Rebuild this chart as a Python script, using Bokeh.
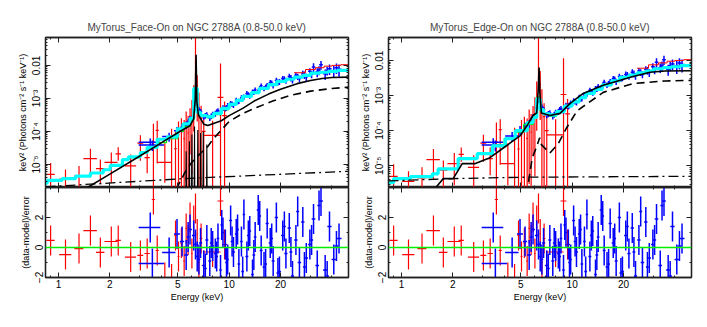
import numpy as np
from bokeh.plotting import figure
from bokeh.layouts import row, column
from bokeh.models import Range1d, LogAxis, LinearAxis, FixedTicker, CustomJSTickFormatter, Span
from bokeh.embed import file_html
from bokeh.resources import INLINE

# ---------------- axes / ticks ----------------
energy_range = [0.84, 50.0]
flux_range_faceon = [2.0e-6, 0.07]
flux_range_edgeon = [2.4e-6, 0.045]
resid_range = [-2.0, 4.0]
x_major_ticks = [1, 2, 5, 10, 20]
x_minor_ticks = [0.9, 3, 4, 6, 7, 8, 9, 30, 40, 50]
y_major_ticks = [1e-5, 1e-4, 1e-3, 1e-2]
y_minor_ticks = [2e-6, 3e-6, 4e-6, 5e-6, 6e-6, 7e-6, 8e-6, 9e-6,
                 2e-5, 3e-5, 4e-5, 5e-5, 6e-5, 7e-5, 8e-5, 9e-5,
                 2e-4, 3e-4, 4e-4, 5e-4, 6e-4, 7e-4, 8e-4, 9e-4,
                 2e-3, 3e-3, 4e-3, 5e-3, 6e-3, 7e-3, 8e-3, 9e-3,
                 2e-2, 3e-2, 4e-2, 5e-2, 6e-2]
res_ticks_faceon = [-2, 0, 2]
res_ticks_edgeon = [-2, 0, 2]
res_minor_ticks = [-1, 1, 3]

# ---------------- red spectrum ----------------
red_E = [0.90, 1.10, 1.32, 1.54, 1.76, 2.04, 2.24, 2.65, 3.02, 3.31, 3.60, 3.79, 4.20, 4.60, 4.85, 5.05,
         5.25, 5.45, 5.60, 5.75, 5.90, 6.05, 6.20, 6.35, 6.50, 6.65, 6.85, 7.10, 8.00, 8.90, 9.40]
red_dE = [0.05, 0.09, 0.08, 0.14, 0.10, 0.18, 0.08, 0.20, 0.12, 0.12, 0.08, 0.08, 0.40, 0.10, 0.08, 0.06,
          0.08, 0.07, 0.05, 0.05, 0.05, 0.05, 0.05, 0.05, 0.05, 0.06, 0.12, 0.18, 0.90, 0.35, 0.30]
red_F = [5.0e-6, 3.6e-6, 4.5e-6, 1.5e-5, 7.5e-6, 1.15e-5, 2.1e-5, 9.0e-6, 4.4e-5, 1.6e-5, 4.7e-5, 1.07e-4,
         1.15e-5, 6.0e-5, 3.0e-5, 8.0e-5, 1.2e-4, 6.0e-5, 1.5e-4, 9.0e-5, 2.2e-4, 3.0e-4, 8.0e-4, 1.2e-2,
         2.0e-3, 4.0e-4, 2.5e-4, 1.0e-4, 7.6e-5, 1.07e-3, 3.0e-4]
red_lo = [1e-7, 1e-7, 1.5e-6, 4.1e-6, 2.5e-6, 2.8e-6, 1.3e-5, 2.0e-6, 1.3e-5, 5.4e-6, 1e-7, 1.07e-5,
          2.8e-6, 1e-7, 1e-7, 1e-6, 1e-7, 1e-7, 3e-6, 1e-7, 2e-5, 5e-6, 1e-4, 1.5e-3,
          2e-4, 1e-7, 1e-7, 1e-7, 1e-7, 1e-7, 1e-7]
red_hi = [1.1e-5, 7.0e-6, 9.0e-6, 3.0e-5, 1.4e-5, 2.3e-5, 3.3e-5, 2.0e-5, 7.6e-5, 3.3e-5, 1.7e-4, 2.1e-4,
          4.4e-5, 1.2e-4, 1.0e-4, 2.0e-4, 2.5e-4, 2.2e-4, 4.0e-4, 3.0e-4, 5.0e-4, 9.0e-4, 2.5e-3, 0.1,
          5.0e-3, 1.5e-3, 6.0e-4, 3.0e-4, 2.1e-4, 1.15e-2, 8.0e-4]
red_res = [0.47, -0.47, -0.07, 1.13, -0.33, 0.4, 0.47, -0.64, -0.53, -0.4, 3.2, -0.2, -2.0, -2.1, 0.8, -0.6,
           0.3, -0.9, 1.27, 0.5, 2.0, -0.4, 1.8, 2.6, 0.9, -1.0, 0.6, -1.2, -0.3, 3.1, 0.2]

# ---------------- blue spectrum (two sets) ----------------
blue_E = [3.45, 3.55, 4.45, 4.95, 5.3, 5.6, 5.9, 6.2, 6.5, 6.8, 7.1, 7.4, 7.7, 8.0, 8.3, 8.6, 8.9, 9.2, 9.5, 9.8,
          10.2, 10.6, 11.0, 11.4, 11.8, 12.2, 12.7, 13.2, 13.7, 14.2, 14.8, 15.4, 16.0, 16.7, 17.4, 18.1,
          18.9, 19.7, 20.6, 21.5, 22.5, 23.5, 24.6, 25.8, 27.0, 28.3, 29.7, 31.2, 32.8, 34.5, 36.5, 38.7,
          41.0, 44.0]
blue_dE = [0.5, 0.6, 0.4, 0.2, 0.15, 0.15, 0.15, 0.15, 0.15, 0.15, 0.15, 0.15, 0.15, 0.15, 0.15, 0.15, 0.15,
           0.15, 0.15, 0.15, 0.2, 0.2, 0.2, 0.2, 0.2, 0.2, 0.25, 0.25, 0.25, 0.25, 0.3, 0.3, 0.3, 0.35, 0.35,
           0.35, 0.4, 0.4, 0.45, 0.45, 0.5, 0.5, 0.55, 0.6, 0.6, 0.65, 0.7, 0.75, 0.8, 0.85, 1.0, 1.1, 1.2, 1.5]
blue_F = [4.7e-5, 3.9e-5, 7.0e-5, 1.05e-4, 1.32e-4, 1.6e-4, 2.4e-4, 4.5e-4, 6.3e-4, 4.0e-4, 2.8e-4, 3.2e-4,
          2.6e-4, 3.3e-4, 3.5e-4, 4.2e-4, 3.8e-4, 5.2e-4, 5.0e-4, 6.0e-4, 7.1e-4, 6.3e-4, 8.9e-4, 8.3e-4,
          1.05e-3, 1.12e-3, 1.41e-3, 1.2e-3, 1.58e-3, 1.82e-3, 1.66e-3, 2.4e-3, 2.0e-3, 2.5e-3, 3.0e-3,
          2.5e-3, 3.5e-3, 3.2e-3, 4.0e-3, 3.5e-3, 4.6e-3, 3.6e-3, 5.0e-3, 4.0e-3, 5.5e-3, 4.5e-3, 6.6e-3,
          8.9e-3, 6.3e-3, 1.05e-2, 5.6e-3, 7.9e-3, 6.9e-3, 7.6e-3]
blue_err = [0.3, 0.35, 0.3, 0.3, 0.28, 0.25, 0.22, 0.2, 0.2, 0.2, 0.2, 0.2, 0.2, 0.2, 0.2, 0.2, 0.2, 0.2, 0.2,
            0.2, 0.18, 0.18, 0.18, 0.18, 0.18, 0.18, 0.18, 0.18, 0.18, 0.18, 0.18, 0.18, 0.18, 0.18, 0.2,
            0.2, 0.2, 0.2, 0.2, 0.2, 0.22, 0.22, 0.22, 0.22, 0.25, 0.25, 0.25, 0.3, 0.3, 0.3, 0.35, 0.35,
            0.4, 0.4]
blue_res = [1.33, -1.07, -0.33, 0.9, 0.4, -0.5, 1.2, 0.8, -0.6, 0.3, -1.2, 0.5, -0.9, 0.1, -0.4, 0.6, -1.5,
            1.0, 0.2, -0.8, 1.8, -0.3, 0.9, -1.1, 0.4, 2.2, -0.6, 1.1, -1.8, 0.7, 2.5, -0.2, -1.3, 1.6, 0.3,
            -0.9, 2.0, -1.6, 0.8, -0.4, 1.3, -1.9, 0.5, -1.0, 1.7, -0.7, 0.2, 1.9, -1.2, 3.1, -1.5, 1.4,
            -0.8, 0.6]

blueB_E = [5.75, 6.35, 6.65, 7.25, 7.85, 8.45, 9.05, 9.65, 10.4, 11.2, 12.0, 12.95, 13.95, 15.1, 16.35,
           17.75, 19.3, 21.05, 23.0, 25.2, 27.6, 30.4, 33.6, 37.5, 42.5]
blueB_dE = [0.12, 0.12, 0.12, 0.14, 0.14, 0.15, 0.16, 0.17, 0.2, 0.2, 0.22, 0.24, 0.26, 0.28, 0.3, 0.33,
            0.37, 0.4, 0.45, 0.5, 0.55, 0.65, 0.75, 0.9, 1.1]
blueB_F = [1.9e-4, 7.5e-4, 4.6e-4, 3.0e-4, 2.9e-4, 3.9e-4, 4.4e-4, 5.3e-4, 6.8e-4, 8.0e-4, 1.0e-3, 1.3e-3,
           1.55e-3, 2.0e-3, 2.2e-3, 2.9e-3, 3.1e-3, 3.9e-3, 4.2e-3, 4.6e-3, 5.2e-3, 5.4e-3, 7.2e-3, 7.0e-3,
           8.5e-3]
blueB_err = [0.22, 0.2, 0.2, 0.2, 0.2, 0.2, 0.2, 0.2, 0.18, 0.18, 0.18, 0.18, 0.18, 0.18, 0.18, 0.2, 0.2,
             0.2, 0.22, 0.22, 0.25, 0.25, 0.3, 0.3, 0.35]
blueB_res = [0.7, 0.2, -0.8, -1.4, 0.3, -0.6, 1.5, -1.0, 0.4, 1.2, -1.6, 0.8, -0.5, 2.1, -1.1, 0.6, -1.7,
             1.4, -0.3, 2.4, -1.3, 0.5, 2.8, -1.9, 0.1]

# ---------------- Face-On models ----------------
faceon_cyan_edges = [0.84, 0.86, 1.05, 1.26, 1.54, 1.83, 2.01, 2.37, 2.57, 3.02, 3.31, 3.79, 4.34, 4.97, 5.38,
                     5.9, 6.2, 6.5, 6.8, 7.4, 8.1, 9.0, 10.0, 11.0, 12.0, 13.5, 15.0, 17.0, 19.0, 21.5, 24.0,
                     27.0, 30.0, 34.0, 38.0, 43.0, 50.0]
faceon_cyan_F = [2.7e-6, 3.3e-6, 3.7e-6, 4.4e-6, 5.5e-6, 6.9e-6, 9.3e-6, 1.4e-5, 1.7e-5, 2.3e-5, 3.3e-5,
                 5.8e-5, 6.8e-5, 1.2e-4, 1.7e-4, 2.5e-4, 2.0e-3, 3.8e-4, 3.0e-4, 2.8e-4, 3.5e-4, 5.0e-4,
                 6.6e-4, 8.7e-4, 1.15e-3, 1.5e-3, 2.0e-3, 2.6e-3, 3.3e-3, 3.8e-3, 4.4e-3, 5.0e-3, 5.8e-3,
                 6.2e-3, 6.6e-3, 7.1e-3]
faceon_green_edges = [2.6, 3.0, 3.3, 3.8, 4.3, 5.0, 5.4, 5.9, 6.2, 6.5, 6.8, 7.4, 8.1, 9.0, 10.0]
faceon_green_F = [1.6e-5, 2.2e-5, 3.1e-5, 4.6e-5, 6.0e-5, 1.0e-4, 1.4e-4, 2.2e-4, 1.6e-3, 3.6e-4, 2.9e-4,
                  2.6e-4, 3.2e-4, 4.6e-4]
faceon_total_E = [1.45, 1.48, 2.0, 3.0, 4.0, 5.0, 5.9, 6.2, 6.33, 6.4, 6.47, 6.6, 7.1, 7.5, 9.0, 10.0, 12.0,
                  14.0, 17.0, 20.0, 25.0, 30.0, 35.0, 40.0, 50.0]
faceon_total_F = [1.6e-6, 2.0e-6, 5.1e-6, 1.8e-5, 4.5e-5, 9.1e-5, 1.5e-4, 2.4e-4, 1.0e-3, 2.1e-2, 7.9e-4,
                  3.2e-4, 1.66e-4, 1.5e-4, 2.1e-4, 3.0e-4, 5.0e-4, 8.3e-4, 1.35e-3, 1.9e-3, 2.8e-3, 3.5e-3,
                  4.0e-3, 4.3e-3, 4.4e-3]
faceon_refl_E = [4.9, 5.5, 6.0, 6.4, 7.0, 7.5, 8.0, 9.0, 10.0, 12.0, 14.6, 18.0, 22.7, 30.0, 40.0, 50.0]
faceon_refl_F = [1.8e-6, 5.6e-6, 1.1e-5, 1.6e-5, 2.5e-5, 3.5e-5, 5.6e-5, 1.1e-4, 2.0e-4, 3.5e-4, 5.4e-4,
                 8.3e-4, 1.23e-3, 1.66e-3, 2.0e-3, 2.2e-3]
faceon_scat_E = [0.84, 5.9, 50.0]
faceon_scat_F = [2.1e-6, 3.8e-6, 6.2e-6]
faceon_lines_E = [5.55, 5.6, 5.65, 5.8, 5.85, 5.9, 6.0, 6.05, 6.1, 6.22, 6.27, 6.3, 6.5, 6.55, 6.6, 6.75,
                  6.8, 6.85, 7.0, 7.05, 7.1, 7.35, 7.4, 7.45]
faceon_lines_F = [1e-7, 2.5e-5, 1e-7, 1e-7, 5e-5, 1e-7, 1e-7, 8e-5, 1e-7, 1e-7, 1.4e-4, 1e-7, 1e-7, 1.1e-4,
                  1e-7, 1e-7, 9e-5, 1e-7, 1e-7, 1.0e-4, 1e-7, 1e-7, 4e-5, 1e-7]
redmodel_edges = [24.0, 28.0, 32.0, 36.0, 40.0, 45.0, 50.0]
redmodel_F = [6.0e-3, 7.5e-3, 8.5e-3, 9.5e-3, 1.0e-2, 1.05e-2]

# ---------------- Edge-On models ----------------
edgeon_cyan_edges = [0.84, 0.90, 1.13, 1.52, 1.64, 2.15, 2.78, 3.41, 4.06, 4.64, 5.46, 5.9, 6.2, 6.5, 6.8,
                     7.4, 8.1, 9.0, 10.0, 11.0, 12.0, 13.5, 15.0, 17.0, 19.0, 21.5, 24.0, 27.0, 30.0, 34.0,
                     38.0, 43.0, 50.0]
edgeon_cyan_F = [3.3e-6, 4.3e-6, 4.9e-6, 5.9e-6, 8.1e-6, 1.6e-5, 2.2e-5, 3.7e-5, 5.9e-5, 1.0e-4, 1.7e-4,
                 2.4e-4, 8.0e-4, 4.0e-4, 3.0e-4, 2.8e-4, 3.5e-4, 5.0e-4, 6.6e-4, 8.7e-4, 1.15e-3, 1.5e-3,
                 2.0e-3, 2.6e-3, 3.3e-3, 3.8e-3, 4.4e-3, 5.0e-3, 5.8e-3, 6.2e-3, 6.6e-3, 7.1e-3]
edgeon_green_edges = [3.4, 4.0, 4.6, 5.2, 5.9, 6.2, 6.5, 6.8, 7.4, 8.1, 9.0]
edgeon_green_F = [3.9e-5, 6.0e-5, 9.0e-5, 1.5e-4, 2.3e-4, 9.0e-4, 3.6e-4, 2.9e-4, 2.6e-4, 3.3e-4]
edgeon_total_E = [1.52, 1.58, 1.76, 2.01, 2.27, 2.71, 3.3, 3.95, 4.97, 5.5, 5.9, 6.2, 6.33, 6.4, 6.47, 6.6,
                  7.4, 8.5, 9.7, 11.6, 15.2, 22.7, 28.6, 35.0, 50.0]
edgeon_total_F = [1.5e-6, 2.3e-6, 4.3e-6, 4.3e-6, 1.15e-5, 1.15e-5, 1.7e-5, 3.2e-5, 7.2e-5, 1.5e-4, 2.7e-4,
                  3.2e-4, 1.5e-3, 6.3e-3, 1.2e-3, 3.2e-4, 2.7e-4, 3.1e-4, 5.9e-4, 1.15e-3, 1.95e-3, 3.5e-3,
                  4.6e-3, 5.0e-3, 5.1e-3]
edgeon_refl_E = [5.4, 5.84, 6.2, 6.45, 6.6, 7.4, 8.3, 9.3, 10.7, 15.2, 22.7, 35.0, 50.0]
edgeon_refl_F = [1.5e-6, 1.7e-5, 3.5e-5, 6.3e-5, 4.0e-5, 2.3e-5, 4.3e-5, 1.23e-4, 3.7e-4, 1.23e-3, 2.2e-3,
                 2.6e-3, 2.7e-3]
edgeon_scat_E = [0.84, 2.0, 5.0, 50.0]
edgeon_scat_F = [3.7e-6, 4.3e-6, 4.7e-6, 5.0e-6]

titles = ["MyTorus_Face-On on NGC 2788A (0.8-50.0 keV)", "MyTorus_Edge-On on NGC 2788A (0.8-50.0 keV)"]
flux_label = "keV\u00b2 (Photons cm\u207b\u00b2 s\u207b\u00b9 keV\u207b\u00b9)"
resid_label = "(data-model)/error"
energy_label = "Energy (keV)"

# ---------------- styling helpers ----------------
FONT = "Liberation Sans"
AX = "#202020"
RED = "#ff0000"
BLUE = "#0000ff"
CYAN = "#00ffff"
GREEN = "#00ee00"

SUP_JS = """
const e = Math.round(Math.log10(tick));
if (e === -2) { return "0.01"; }
const m = {"-": "\\u207b", "0": "\\u2070", "1": "\\u00b9", "2": "\\u00b2", "3": "\\u00b3",
           "4": "\\u2074", "5": "\\u2075", "6": "\\u2076", "7": "\\u2077", "8": "\\u2078", "9": "\\u2079"};
return "10" + String(e).split("").map(c => m[c]).join("");
"""


def style_axis(ax, labelled, size="9px", lab_standoff=2, axl_standoff=2):
    ax.axis_line_color = AX
    ax.axis_line_width = 1.3
    ax.major_tick_in = 5
    ax.major_tick_out = 0
    ax.minor_tick_in = 2
    ax.minor_tick_out = 0
    ax.major_tick_line_color = AX
    ax.minor_tick_line_color = AX
    ax.major_label_text_font = FONT
    ax.major_label_text_font_size = size
    ax.major_label_text_color = "black"
    ax.axis_label_text_font = FONT
    ax.axis_label_text_font_size = "9px"
    ax.axis_label_text_font_style = "normal"
    ax.axis_label_text_color = "black"
    ax.major_label_standoff = lab_standoff
    ax.axis_label_standoff = axl_standoff
    if not labelled:
        ax.formatter = CustomJSTickFormatter(code="return '';")
        ax.major_label_text_font_size = "0px"
        ax.major_label_standoff = 0


def xticker():
    return FixedTicker(ticks=x_major_ticks, minor_ticks=x_minor_ticks)


def crosses(p, E, dE, y, ylo, yhi, color, width):
    E = np.array(E); dE = np.array(dE)
    p.segment(x0=E - dE, y0=y, x1=E + dE, y1=y, line_color=color, line_width=width)
    p.segment(x0=E, y0=ylo, x1=E, y1=yhi, line_color=color, line_width=width)


def steps(p, edges, vals, color, width):
    v = list(vals) + [vals[-1]]
    p.step(x=edges, y=v, mode="after", line_color=color, line_width=width)


def make_top(title, yr, lb, rb, cyan_edges, cyan_F, green_edges, green_F, tot_E, tot_F,
             refl_E, refl_F, scat_E, scat_F, lines_E=None, lines_F=None):
    p = figure(x_axis_type="log", y_axis_type="log", x_range=Range1d(*energy_range), y_range=Range1d(*yr),
               frame_width=303, frame_height=150, x_axis_location=None, y_axis_location=None,
               min_border_left=lb, min_border_right=rb, min_border_top=37, min_border_bottom=0,
               output_backend="svg", toolbar_location=None, title=title)
    p.title.align = "center"
    p.title.text_font = FONT
    p.title.text_font_size = "10px"
    p.title.text_font_style = "normal"
    p.outline_line_color = AX
    p.outline_line_width = 1.3
    p.grid.visible = False
    yt = FixedTicker(ticks=y_major_ticks, minor_ticks=y_minor_ticks)
    left = LogAxis(ticker=yt, formatter=CustomJSTickFormatter(code=SUP_JS), axis_label=flux_label,
                   major_label_orientation="vertical")
    style_axis(left, True, "10px", 3, 1)
    p.add_layout(left, "left")
    a = LogAxis(ticker=FixedTicker(ticks=y_major_ticks, minor_ticks=y_minor_ticks))
    style_axis(a, False)
    p.add_layout(a, "right")
    for side in ("below", "above"):
        a = LogAxis(ticker=xticker())
        style_axis(a, False)
        p.add_layout(a, side)

    # data
    crosses(p, red_E, red_dE, red_F, red_lo, red_hi, RED, 1.2)
    bF = np.array(blue_F); be = np.array(blue_err)
    crosses(p, blue_E, blue_dE, bF, bF * (1 - be), bF * (1 + be), BLUE, 1.5)
    bF2 = np.array(blueB_F); be2 = np.array(blueB_err)
    crosses(p, blueB_E, blueB_dE, bF2, bF2 * (1 - be2), bF2 * (1 + be2), BLUE, 1.5)
    # models
    steps(p, green_edges, green_F, GREEN, 1.2)
    steps(p, redmodel_edges, redmodel_F, RED, 1.0)
    steps(p, cyan_edges, cyan_F, CYAN, 3.2)
    if lines_E is not None:
        p.line(lines_E, lines_F, line_color="black", line_width=1.1)
    p.line(scat_E, scat_F, line_color="black", line_width=1.3, line_dash="10 4 2 4")
    p.line(refl_E, refl_F, line_color="black", line_width=1.6, line_dash="8 5")
    p.line(tot_E, tot_F, line_color="black", line_width=1.6)
    return p


def make_bottom(lb, rb, res_ticks):
    p = figure(x_axis_type="log", x_range=Range1d(*energy_range), y_range=Range1d(*resid_range),
               frame_width=303, frame_height=90, x_axis_location=None, y_axis_location=None,
               min_border_left=lb, min_border_right=rb, min_border_top=0, min_border_bottom=32,
               output_backend="svg", toolbar_location=None)
    p.outline_line_color = AX
    p.outline_line_width = 1.3
    p.grid.visible = False
    left = LinearAxis(ticker=FixedTicker(ticks=res_ticks, minor_ticks=res_minor_ticks),
                      axis_label=resid_label, major_label_orientation="vertical")
    style_axis(left, True, "10px", 3, 1)
    p.add_layout(left, "left")
    right = LinearAxis(ticker=FixedTicker(ticks=res_ticks, minor_ticks=res_minor_ticks))
    style_axis(right, False)
    p.add_layout(right, "right")
    below = LogAxis(ticker=xticker(), formatter=CustomJSTickFormatter(code="return String(tick);"),
                    axis_label=energy_label)
    style_axis(below, True, "10px", 2, 1)
    p.add_layout(below, "below")
    above = LogAxis(ticker=xticker())
    style_axis(above, False)
    p.add_layout(above, "above")

    rr = np.array(red_res)
    crosses(p, red_E, red_dE, rr, rr - 1, rr + 1, RED, 1.2)
    br = np.array(blue_res)
    crosses(p, blue_E, blue_dE, br, br - 1, br + 1, BLUE, 1.5)
    br2 = np.array(blueB_res)
    crosses(p, blueB_E, blueB_dE, br2, br2 - 1, br2 + 1, BLUE, 1.5)
    p.add_layout(Span(location=0, dimension="width", line_color=GREEN, line_width=1.5))
    return p


lt = make_top(titles[0], flux_range_faceon, 45, 2, faceon_cyan_edges, faceon_cyan_F, faceon_green_edges,
              faceon_green_F, faceon_total_E, faceon_total_F, faceon_refl_E, faceon_refl_F,
              faceon_scat_E, faceon_scat_F, faceon_lines_E, faceon_lines_F)
lb_ = make_bottom(45, 2, res_ticks_faceon)
rt = make_top(titles[1], flux_range_edgeon, 38, 8, edgeon_cyan_edges, edgeon_cyan_F, edgeon_green_edges,
              edgeon_green_F, edgeon_total_E, edgeon_total_F, edgeon_refl_E, edgeon_refl_F,
              edgeon_scat_E, edgeon_scat_F)
rb_ = make_bottom(38, 8, res_ticks_edgeon)

layout = row(column(lt, lb_), column(rt, rb_))

with open("out.html", "w", encoding="utf-8") as f:
    f.write(file_html(layout, INLINE))
